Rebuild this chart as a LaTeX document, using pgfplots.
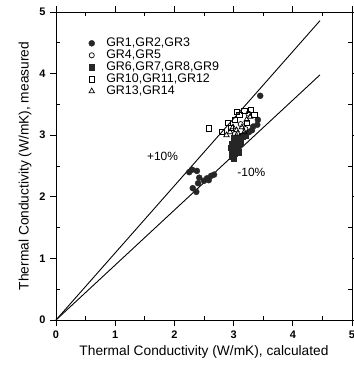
\documentclass[border=0pt]{standalone}
\usepackage{pgfplots}
\pgfplotsset{compat=1.18}
\usepackage{fontspec}
\setmainfont{Liberation Sans}
\begin{document}
\begin{tikzpicture}
\begin{axis}[
  scale only axis, width=296bp, height=308bp,
  xmin=0, xmax=5, ymin=0, ymax=5,
  xtick={0,1,2,3,4,5}, ytick={0,1,2,3,4,5},
  minor x tick num=1, minor y tick num=1,
  tick align=outside, major tick length=6bp, minor tick length=-3.5bp,
  tick style={black, line width=0.7pt},
  axis line style={line width=0.9pt},
  ticklabel style={font=\fontsize{11}{12}\selectfont\bfseries},
  yticklabel style={xshift=-1bp},
  xticklabel style={yshift=-1bp},
  /pgf/number format/assume math mode=true,
  xlabel={Thermal Conductivity (W/mK), calculated},
  ylabel={Thermal Conductivity (W/mK), measured},
  label style={font=\fontsize{13.8}{15}\selectfont},
  xlabel style={yshift=0bp},
  ylabel style={yshift=1bp},
  legend style={at={(rel axis cs:0.095,0.922)}, anchor=north west, draw=none, fill=none,
    font=\fontsize{12.5}{13}\selectfont, row sep=-2.2pt, cells={anchor=west}, inner sep=0pt},
  legend image code/.code={\draw[mark repeat=2,mark phase=2] plot coordinates {(0cm,0cm) (0.25cm,0cm) (0.5cm,0cm)}; \path (0,0) (0.68cm,0);},
  legend cell align=left,
  clip=false,
]
\coordinate (ll) at (rel axis cs:0,0);
\coordinate (ur) at (rel axis cs:1,1);
\addplot[only marks, mark=*, mark size=3pt, fill=black!85, draw=black!85] coordinates {
(3.45,3.64) (3.41,3.25) (3.40,3.17) (3.31,3.08) (3.33,3.14) (3.26,3.05)
(2.30,2.44) (2.38,2.42) (2.42,2.31) (2.40,2.22) (2.31,2.14) (2.37,2.08)
(2.55,2.30) (2.62,2.34) (2.67,2.36) (2.50,2.26) (2.58,2.27) (2.25,2.40)
};
\addlegendentry{GR1,GR2,GR3}
\addplot[only marks, mark=o, mark size=2.6pt, black, line width=0.7pt] coordinates {
(3.12,3.18) (3.20,3.10) (3.02,3.02) (3.25,3.35)
};
\addlegendentry{GR4,GR5}
\addplot[only marks, mark=square*, mark size=2.8pt, fill=black!85, draw=black!85] coordinates {
(3.00,2.95) (3.05,2.90) (3.10,2.95) (3.15,2.98) (2.97,2.85) (3.03,2.80)
(3.08,2.85) (2.97,2.75) (3.02,2.70) (2.98,2.65) (3.05,2.75) (3.12,2.88)
(3.20,3.00) (2.95,2.80) (3.00,2.62) (3.08,2.72)
};
\addlegendentry{GR6,GR7,GR8,GR9}
\addplot[only marks, mark=square, mark size=2.7pt, black, line width=0.7pt] coordinates {
(2.58,3.11) (3.29,3.41) (3.35,3.33) (2.90,3.20) (3.02,3.25) (3.10,3.33)
(2.80,3.05) (3.22,3.20) (3.18,3.40) (2.95,3.12) (3.05,3.38)
};
\addlegendentry{GR10,GR11,GR12}
\addplot[only marks, mark=triangle, mark size=3.2pt, black, line width=0.7pt] coordinates {
(2.94,3.05) (3.05,3.08) (3.14,3.13) (3.22,3.25) (3.07,3.03) (3.28,3.30)
(2.99,3.13) (2.88,3.00) (3.18,3.05)
};
\addlegendentry{GR13,GR14}
\addplot[black, line width=0.9pt, forget plot] coordinates {(0,0) (4.46,4.86)};
\addplot[black, line width=0.9pt, forget plot] coordinates {(0,0) (4.46,3.98)};
\node[font=\fontsize{12}{13}\selectfont] at (axis cs:1.80,2.65) {+10\%};
\node[font=\fontsize{12}{13}\selectfont] at (axis cs:3.30,2.40) {-10\%};
\end{axis}
\pgfresetboundingbox
\useasboundingbox ([xshift=-56bp,yshift=-50bp]ll) rectangle ([xshift=2bp,yshift=12bp]ur);
\end{tikzpicture}
\end{document}
